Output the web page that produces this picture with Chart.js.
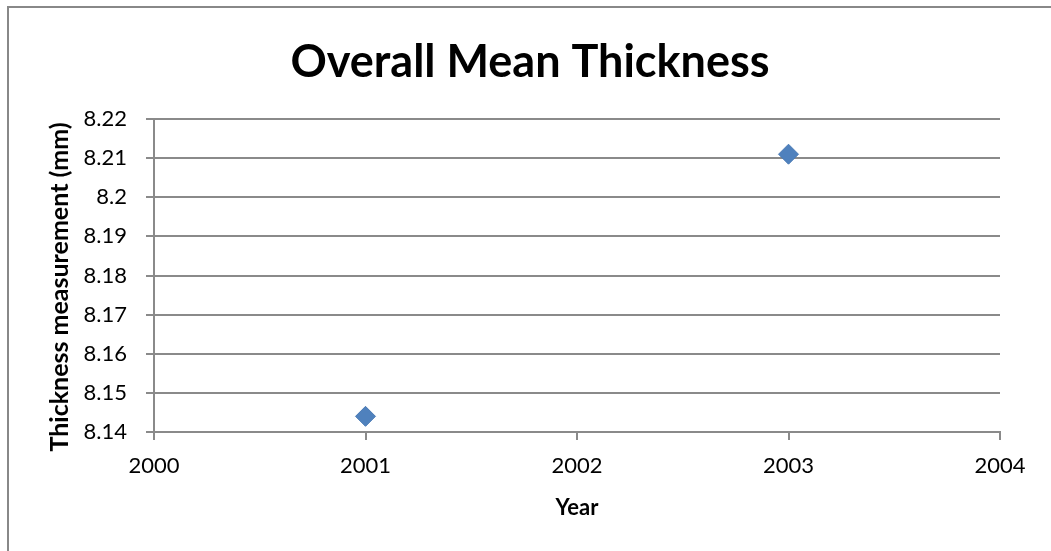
<!DOCTYPE html>
<html>
<head>
<meta charset="utf-8">
<script src="https://cdn.jsdelivr.net/npm/chart.js@4.4.1/dist/chart.umd.min.js"></script>
<style>
  html, body { margin: 0; padding: 0; background: #ffffff; }
  #wrap { position: relative; width: 1051px; height: 551px; overflow: hidden; }
  #frame { position: absolute; left: 7px; top: 6px; width: 1060px; height: 560px;
           border: 2px solid #888888; box-sizing: border-box; }
  canvas { position: absolute; left: 0; top: 0; }
</style>
</head>
<body>
<div id="wrap">
  <div id="frame"></div>
  <canvas id="chart" width="1051" height="551"></canvas>
</div>
<script>
// Yearly overall mean thickness (mm)
const years = [2001, 2003];
const meanThickness = [8.144, 8.211];
const xTicks = [2000, 2001, 2002, 2003, 2004];
const yTicks = [8.14, 8.15, 8.16, 8.17, 8.18, 8.19, 8.2, 8.21, 8.22];

const FONT = 'Lato, "Liberation Sans", sans-serif';
const GRID = '#8a8a8a';

// Heading and vertical axis caption
const textPlugin = {
  id: 'chartTexts',
  afterDraw(chart) {
    const ctx = chart.ctx;
    ctx.save();
    ctx.fillStyle = '#000000';
    ctx.font = 'bold 45px ' + FONT;
    ctx.textAlign = 'center';
    ctx.textBaseline = 'alphabetic';
    ctx.fillText('Overall Mean Thickness', 530, 77);

    ctx.translate(60, 287);
    ctx.rotate(-Math.PI / 2);
    ctx.font = 'bold 25px ' + FONT;
    ctx.textBaseline = 'middle';
    ctx.fillText('Thickness measurement (mm)', 0, 0);
    ctx.restore();
  }
};

new Chart(document.getElementById('chart'), {
  type: 'scatter',
  data: {
    datasets: [{
      label: 'Mean thickness',
      data: years.map((y, i) => ({ x: y, y: meanThickness[i] })),
      pointStyle: 'rectRot',
      pointRadius: 10,
      pointHoverRadius: 10,
      backgroundColor: '#4f81bd',
      borderColor: '#4a7ab5',
      borderWidth: 1
    }]
  },
  options: {
    responsive: false,
    animation: false,
    layout: { padding: { left: 0, right: 51, top: 119, bottom: 0 } },
    plugins: {
      legend: { display: false },
      tooltip: { enabled: false },
      title: { display: false }
    },
    scales: {
      x: {
        type: 'linear',
        min: xTicks[0],
        max: xTicks[xTicks.length - 1],
        afterBuildTicks(scale) { scale.ticks = xTicks.map(v => ({ value: v })); },
        afterFit(scale) { scale.height = 119; },
        ticks: {
          color: '#000000',
          font: { family: FONT, size: 22 },
          padding: 13,
          maxRotation: 0,
          callback: v => String(v)
        },
        grid: { drawOnChartArea: false, drawTicks: true, tickLength: 8, color: GRID, lineWidth: 2 },
        border: { display: true, color: GRID, width: 2 },
        title: {
          display: true,
          text: 'Year',
          color: '#000000',
          font: { family: FONT, size: 22, weight: 'bold' },
          padding: { top: 0, bottom: 30 }
        }
      },
      y: {
        type: 'linear',
        min: yTicks[0],
        max: yTicks[yTicks.length - 1],
        afterBuildTicks(scale) { scale.ticks = yTicks.map(v => ({ value: v })); },
        afterFit(scale) { scale.width = 154; },
        ticks: {
          color: '#000000',
          font: { family: FONT, size: 22 },
          padding: 19,
          callback: v => String(Number(v.toFixed(2)))
        },
        grid: { drawTicks: true, tickLength: 8, color: GRID, lineWidth: 2 },
        border: { display: true, color: GRID, width: 2 },
        title: { display: false }
      }
    }
  },
  plugins: [textPlugin]
});
</script>
</body>
</html>
